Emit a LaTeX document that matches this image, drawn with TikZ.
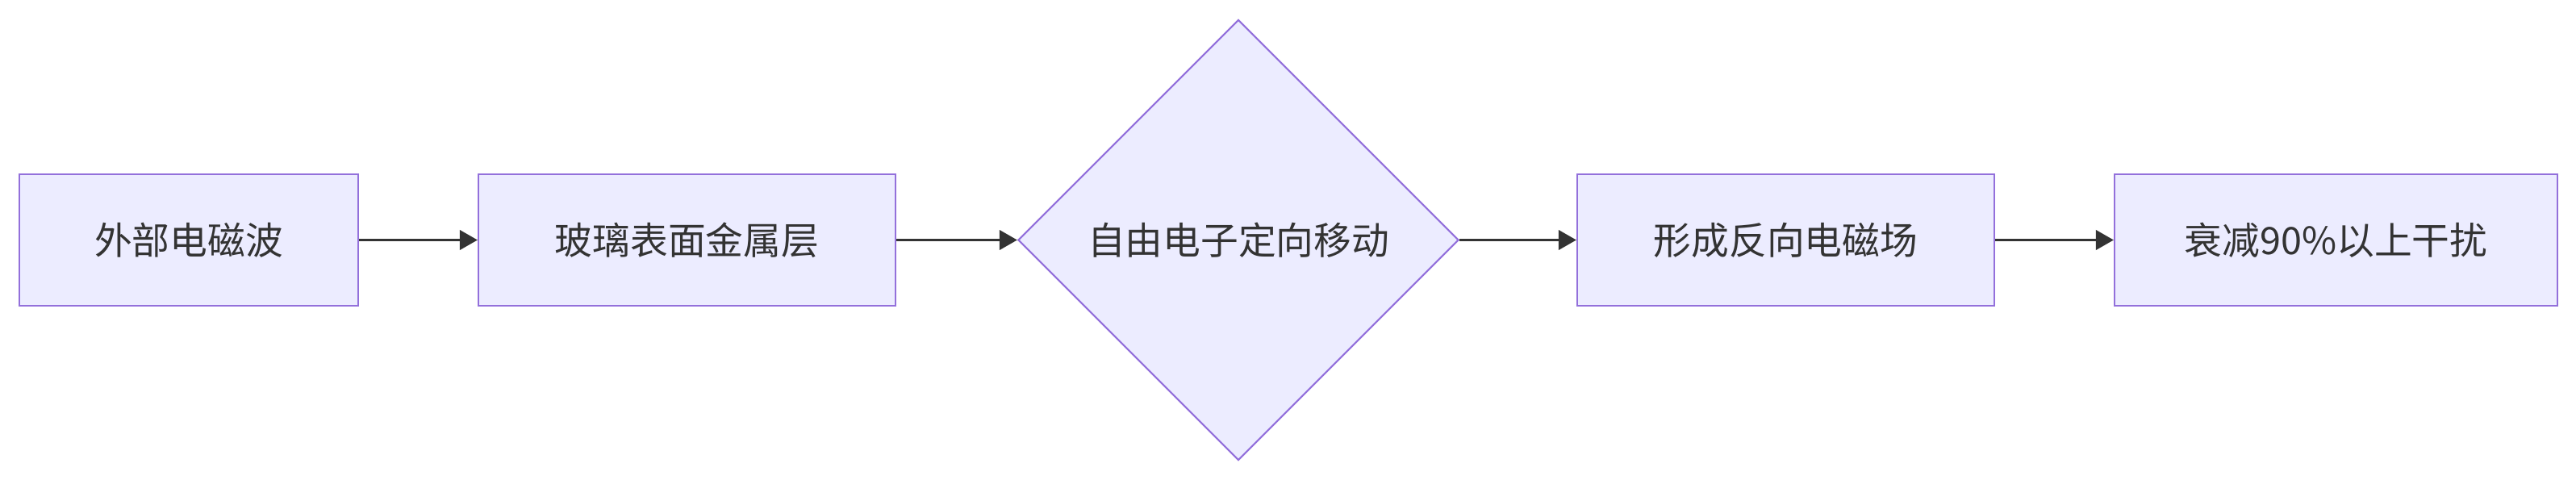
\documentclass[tikz,border=0pt]{standalone}
\usepackage{fontspec}
\setmainfont{Noto Sans CJK SC}
\usetikzlibrary{shapes.geometric,arrows.meta}
\definecolor{boxfill}{HTML}{ECECFF}
\definecolor{boxline}{HTML}{9370DB}
\definecolor{arrowcol}{HTML}{333333}
\begin{document}
\begin{tikzpicture}[
    box/.style={rectangle,draw=boxline,fill=boxfill,line width=0.6pt,minimum height=1.63cm,text=arrowcol,font=\fontsize{13.3pt}{16pt}\selectfont},
    choice/.style={diamond,draw=boxline,fill=boxfill,line width=0.6pt,minimum width=5.46cm,minimum height=5.46cm,inner sep=0pt,text=arrowcol,font=\fontsize{13.3pt}{16pt}\selectfont},
    link/.style={draw=arrowcol,line width=1.1pt,-{Triangle[length=0.22cm,width=0.24cm]}}
]
            \useasboundingbox (0,0) rectangle (31.93,5.94);
            \node[box,minimum width=4.20cm] (1) at (2.34,2.965) {外部电磁波};
            \node[box,minimum width=5.17cm] (2) at (8.515,2.965) {玻璃表面金属层};
            \node[choice] (3) at (15.35,2.965) {自由电子定向移动};
            \node[box,minimum width=5.17cm] (4) at (22.135,2.965) {形成反向电磁场};
            \node[box,minimum width=5.49cm] (5) at (28.955,2.965) {衰减90\%以上干扰};

            \draw[link] (1) -- (2);
            \draw[link] (2) -- (3);
            \draw[link] (3) -- (4);
            \draw[link] (4) -- (5);
        \end{tikzpicture}
\end{document}
